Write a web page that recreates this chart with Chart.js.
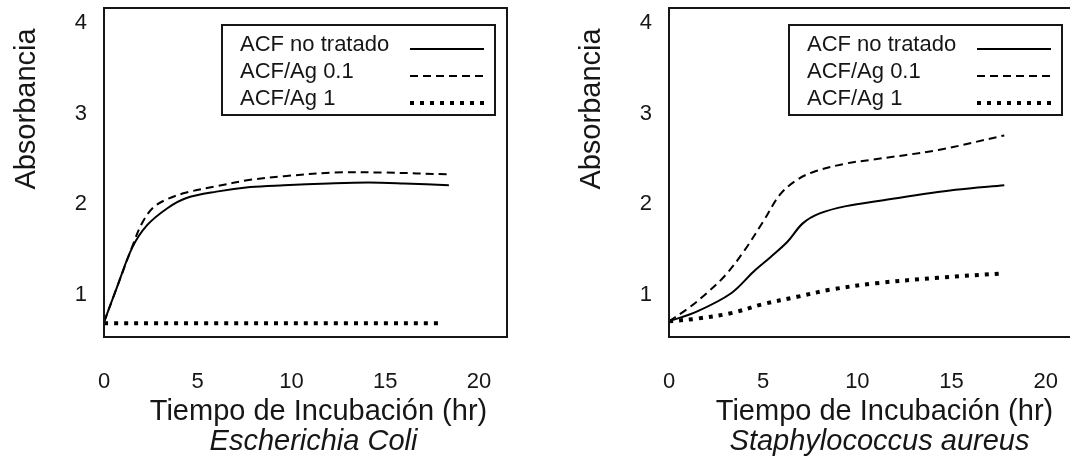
<!DOCTYPE html>
<html>
<head>
<meta charset="utf-8">
<script src="https://cdn.jsdelivr.net/npm/chart.js@4.4.1/dist/chart.umd.min.js"></script>
<style>
    html, body { margin: 0; padding: 0; background: #fff; overflow: hidden; width: 1070px; height: 470px; }
    #ecoli { position: absolute; left: 0; top: 0; }
    #staph { position: absolute; left: 535px; top: 0; }
</style>
</head>
<body>
<canvas id="ecoli" width="535" height="470"></canvas>
<canvas id="staph" width="545" height="470"></canvas>
<script>
const seriesLabels = ['ACF no tratado', 'ACF/Ag 0.1', 'ACF/Ag 1'];
const xTicks = [0, 5, 10, 15, 20];
const yTicks = [1, 2, 3, 4];
const xTitle = 'Tiempo de Incubación (hr)';
const yTitle = 'Absorbancia';

// Escherichia coli
const ecoliTimeControl = [0, 0.7, 1.5, 2.3, 3.4, 4.4, 6.0, 7.8, 9.6, 12.0, 14.1, 16.0, 18.4];
const ecoliControl = [0.70, 1.09, 1.52, 1.77, 1.96, 2.07, 2.14, 2.19, 2.21, 2.23, 2.24, 2.23, 2.21];
const ecoliTimeAg01 = [0, 0.7, 1.5, 2.0, 2.6, 3.4, 4.4, 6.0, 7.8, 9.6, 12.3, 15.0, 18.4];
const ecoliAg01 = [0.70, 1.09, 1.53, 1.78, 1.96, 2.06, 2.13, 2.20, 2.27, 2.31, 2.35, 2.35, 2.33];
const ecoliTimeAg1 = [0, 18.0];
const ecoliAg1 = [0.69, 0.69];

// Staphylococcus aureus
const staphTimeControl = [0, 1.5, 3.3, 4.5, 5.4, 6.3, 7.1, 8.0, 9.4, 11.2, 15.2, 17.8];
const staphControl = [0.71, 0.82, 1.02, 1.26, 1.42, 1.59, 1.79, 1.90, 1.98, 2.04, 2.16, 2.21];
const staphTimeAg01 = [0, 1.0, 2.0, 3.0, 4.0, 5.0, 5.9, 6.8, 7.7, 9.4, 10.7, 14.3, 17.8];
const staphAg01 = [0.71, 0.85, 1.02, 1.22, 1.49, 1.81, 2.11, 2.27, 2.36, 2.45, 2.49, 2.60, 2.76];
const staphTimeAg1 = [0, 1.5, 3.3, 5.0, 6.8, 8.6, 11.0, 14.3, 17.8];
const staphAg1 = [0.71, 0.74, 0.80, 0.90, 0.98, 1.06, 1.13, 1.19, 1.24];

const lineDashes = [[], [8, 5], [4, 6]];
const lineWidths = [2, 2, 4];
const inkColor = '#161616';
const fontFamily = '"Liberation Sans", Arial, sans-serif';

// box round the plot, legend inside it, and the titles under the axes
const frameLegend = {
    id: 'frameLegend',
    afterDraw(chart, args, opts) {
        const ctx = chart.ctx;
        const a = chart.chartArea;
        ctx.save();
        ctx.strokeStyle = inkColor;
        ctx.lineWidth = 2;
        ctx.setLineDash([]);
        ctx.strokeRect(a.left, a.top, a.width, a.height);

        // legend
        const bw = 273, bh = 90;
        const bx = a.right - 12 - bw, by = a.top + 17;
        ctx.fillStyle = '#fff';
        ctx.fillRect(bx, by, bw, bh);
        ctx.strokeRect(bx, by, bw, bh);
        ctx.font = '22px ' + fontFamily;
        ctx.textBaseline = 'middle';
        ctx.textAlign = 'left';
        chart.data.datasets.forEach((ds, i) => {
            const y = by + 20 + i * 27;
            ctx.fillStyle = inkColor;
            ctx.fillText(ds.label, bx + 18, y);
            ctx.beginPath();
            ctx.strokeStyle = ds.borderColor;
            ctx.lineWidth = ds.borderWidth;
            ctx.setLineDash(ds.borderDash);
            ctx.moveTo(bx + 188, y + 4);
            ctx.lineTo(bx + 262, y + 4);
            ctx.stroke();
        });
        ctx.setLineDash([]);

        // titles
        const cx = (a.left + a.right) / 2;
        ctx.fillStyle = inkColor;
        ctx.textAlign = 'center';
        ctx.font = '29px ' + fontFamily;
        ctx.fillText(xTitle, cx + 13, 412);
        ctx.font = 'italic 29px ' + fontFamily;
        ctx.fillText(opts.caption, cx + 8, 442);

        ctx.translate(a.left - 77, 109);
        ctx.rotate(-Math.PI / 2);
        ctx.font = '29px ' + fontFamily;
        ctx.fillText(yTitle, 0, 0);
        ctx.restore();
    }
};

function makeChart(canvasId, caption, times, values, yWidth, rightPad) {
    const datasets = values.map((vals, i) => ({
        label: seriesLabels[i],
        data: vals.map((v, j) => ({ x: times[i][j], y: v })),
        borderColor: '#000',
        borderWidth: lineWidths[i],
        borderDash: lineDashes[i],
        pointRadius: 0,
        fill: false,
        tension: 0.35
    }));

    return new Chart(document.getElementById(canvasId), {
        type: 'line',
        data: { datasets: datasets },
        options: {
            responsive: false,
            animation: false,
            layout: { padding: { top: 8, right: rightPad, bottom: 0, left: 0 } },
            scales: {
                x: {
                    type: 'linear',
                    min: 0,
                    max: 21.5,
                    grid: { display: false, drawTicks: false },
                    border: { display: false },
                    ticks: { padding: 32, color: inkColor, font: { size: 22, family: fontFamily } },
                    afterBuildTicks: s => { s.ticks = xTicks.map(v => ({ value: v })); },
                    afterFit: s => { s.height = 133; s.paddingLeft = 0; s.paddingRight = 0; }
                },
                y: {
                    min: 0.537,
                    max: 4.165,
                    grid: { display: false, drawTicks: false },
                    border: { display: false },
                    ticks: { padding: 17, color: inkColor, font: { size: 22, family: fontFamily } },
                    afterBuildTicks: s => { s.ticks = yTicks.map(v => ({ value: v })); },
                    afterFit: s => { s.width = yWidth; s.paddingTop = 0; s.paddingBottom = 0; }
                }
            },
            plugins: {
                legend: { display: false },
                tooltip: { enabled: false },
                frameLegend: { caption: caption }
            }
        },
        plugins: [frameLegend]
    });
}

makeChart('ecoli', 'Escherichia Coli',
    [ecoliTimeControl, ecoliTimeAg01, ecoliTimeAg1],
    [ecoliControl, ecoliAg01, ecoliAg1], 104, 28);

makeChart('staph', 'Staphylococcus aureus',
    [staphTimeControl, staphTimeAg01, staphTimeAg1],
    [staphControl, staphAg01, staphAg1], 134, 6);
</script>
</body>
</html>
